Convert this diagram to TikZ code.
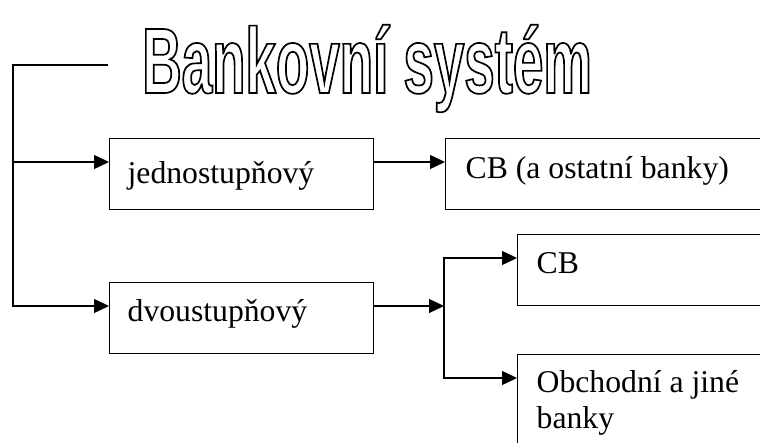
\documentclass[tikz,border=0pt]{standalone}
\usepackage{fontspec}
\setmainfont{Liberation Serif}
\newfontfamily\titlefont[FakeStretch=0.588]{Liberation Sans}
\usetikzlibrary{arrows.meta}

% hollow letters: stroke only
\newcommand{\hollow}[1]{\special{pdf:literal 1 Tr 1.7 w}#1\special{pdf:literal 0 Tr}}

\tikzset{
  stage/.style={draw, line width=1.3pt, anchor=north west, align=flush left,
    inner ysep=0pt, font=\fontsize{31.7}{36}\selectfont},
  link/.style={line width=1.3pt, -{Triangle[length=15pt,width=14pt]}},
}

\begin{document}
\begin{tikzpicture}[line join=miter,x=1pt,y=-1pt]
\useasboundingbox (0,0) rectangle (760,443);
\clip (0,0) rectangle (760,443);

\node [inner sep=0pt, anchor=base west] (title) at (142,93)
  {\titlefont\bfseries\fontsize{93}{93}\selectfont\hollow{Bankovní systém}};

\node [stage, text width=228pt, inner xsep=18pt, text height=45pt, text depth=26pt] (jedno) at (109,138) {jednostupňový};
\node [stage, text width=228pt, inner xsep=18pt, text height=39pt, text depth=32pt] (dvou) at (109,282) {dvoustupňový};
\node [stage, text width=320pt, inner xsep=20pt, text height=40pt, text depth=31pt] (cbo) at (445,138) {CB (a ostatní banky)};
\node [stage, text width=260pt, inner xsep=19pt, text height=39pt, text depth=32pt] (cb) at (517,234) {CB};
\node [stage, text width=260pt, inner xsep=19pt, text height=37.5pt, text depth=80pt] (obch) at (517,354) {Obchodní a jiné\\banky};

\coordinate (tleft) at (108,65);
\coordinate (root) at (13,65);
\coordinate (split) at (444,306);

\draw [link] (tleft) -- (root) |- ([yshift=-24pt]dvou.north west);
\draw [link] (root) |- ([yshift=-24pt]jedno.north west);
\draw [link] ([yshift=-24pt]jedno.north east) -- ([yshift=-24pt]cbo.north west);
\draw [link] ([yshift=-24pt]dvou.north east) -- (split);
\draw [link] (split) |- ([yshift=-24pt]cb.north west);
\draw [link] (split) |- ([yshift=-24pt]obch.north west);
\end{tikzpicture}
\end{document}
